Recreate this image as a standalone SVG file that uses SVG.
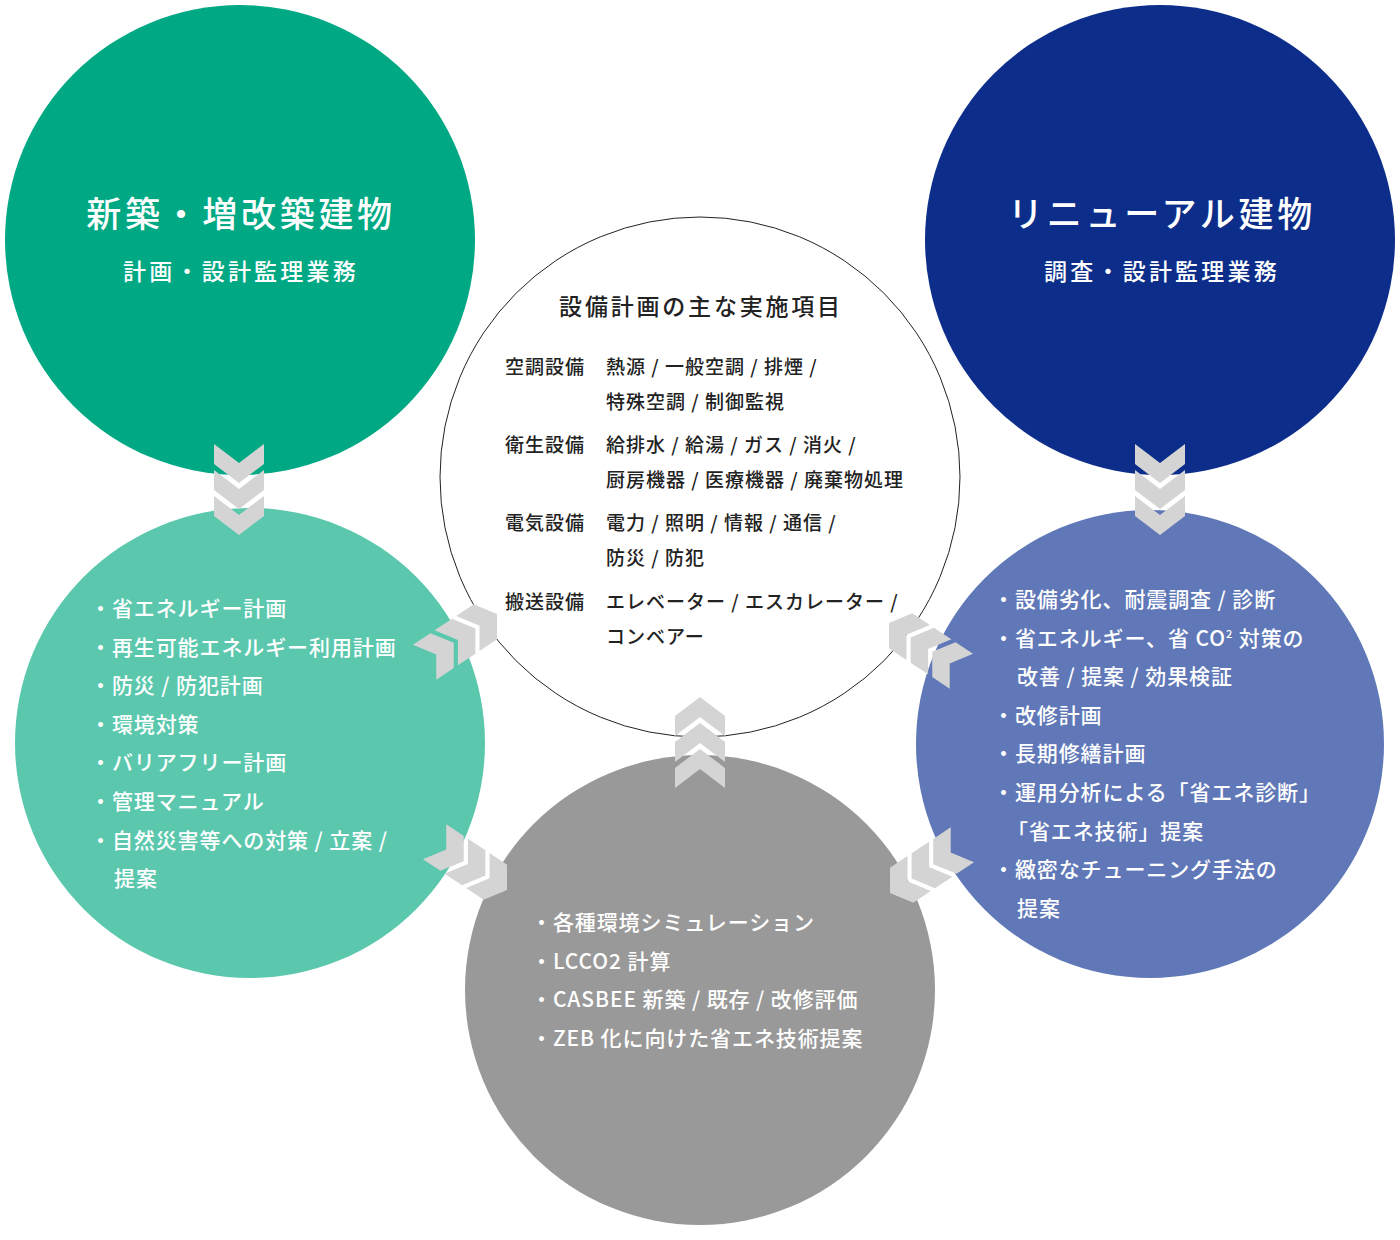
<svg xmlns="http://www.w3.org/2000/svg" xmlns:xlink="http://www.w3.org/1999/xlink" width="1400" height="1240" viewBox="0 0 1400 1240">
<style>
text{font-family:"Noto Sans CJK JP","Noto Sans",sans-serif;font-weight:500}
.w{fill:#ffffff}
.k{fill:#222222}
.t1{font-size:35px;letter-spacing:3.7px;text-anchor:middle}
.t2{font-size:23px;letter-spacing:3.2px;text-anchor:middle}
.li{font-size:21px;letter-spacing:0.9px}
.ct{font-size:23px;letter-spacing:2.8px;text-anchor:middle}
.cb{font-size:19px;letter-spacing:1px}
.chv{fill:#d4d4d4}
</style>
<defs>
<polygon id="cv" class="chv" points="-39,-25 -19,-25 0,0 -19,25 -39,25 -20,0"/>
<polygon id="cd" class="chv" points="-35,-21 -14,-21 0,0 -14,21 -35,21 -21,0"/>
<g id="cv3"><use xlink:href="#cv"/><use xlink:href="#cv" x="-26"/><use xlink:href="#cv" x="-52"/></g>
<g id="cd3"><use xlink:href="#cd"/><use xlink:href="#cd" x="-26"/><use xlink:href="#cd" x="-52"/></g>
</defs>
<rect width="1400" height="1240" fill="#ffffff"/>

<g id="node-new">
<circle cx="240" cy="240" r="235" fill="#00a984"/>
<text class="w t1" x="241" y="227">新築・増改築建物</text>
<text class="w t2" x="241" y="280">計画・設計監理業務</text>
</g>

<g id="node-renewal">
<circle cx="1160" cy="240" r="235" fill="#0c2e8a"/>
<text class="w t1" x="1162" y="227">リニューアル建物</text>
<text class="w t2" x="1162" y="280">調査・設計監理業務</text>
</g>

<g id="node-center">
<circle cx="700" cy="477" r="260" fill="#ffffff" stroke="#222222" stroke-width="1"/>
<text class="k ct" x="701" y="315">設備計画の主な実施項目</text>
<text class="k cb" x="505" y="374">空調設備</text>
<text class="k cb" x="606" y="374">熱源 / 一般空調 / 排煙 /</text>
<text class="k cb" x="606" y="409">特殊空調 / 制御監視</text>
<text class="k cb" x="505" y="452">衛生設備</text>
<text class="k cb" x="606" y="452">給排水 / 給湯 / ガス / 消火 /</text>
<text class="k cb" x="606" y="487">厨房機器 / 医療機器 / 廃棄物処理</text>
<text class="k cb" x="505" y="530">電気設備</text>
<text class="k cb" x="606" y="530">電力 / 照明 / 情報 / 通信 /</text>
<text class="k cb" x="606" y="565">防災 / 防犯</text>
<text class="k cb" x="505" y="609">搬送設備</text>
<text class="k cb" x="606" y="609">エレベーター / エスカレーター /</text>
<text class="k cb" x="606" y="644">コンベアー</text>
</g>

<g id="node-left">
<circle cx="250" cy="743" r="235" fill="#5bc8ae"/>
<text class="w li" x="90" y="616">・省エネルギー計画</text>
<text class="w li" x="90" y="654.6">・再生可能エネルギー利用計画</text>
<text class="w li" x="90" y="693.2">・防災 / 防犯計画</text>
<text class="w li" x="90" y="731.8">・環境対策</text>
<text class="w li" x="90" y="770.4">・バリアフリー計画</text>
<text class="w li" x="90" y="809">・管理マニュアル</text>
<text class="w li" x="90" y="847.6">・自然災害等への対策 / 立案 /</text>
<text class="w li" x="114" y="886.2">提案</text>
</g>

<g id="node-right">
<circle cx="1150" cy="744" r="234" fill="#6078b8"/>
<text class="w li" x="993" y="607">・設備劣化、耐震調査 / 診断</text>
<text class="w li" x="993" y="645.6">・省エネルギー、省 CO<tspan font-size="11" dy="-8">2</tspan><tspan dy="8"> 対策の</tspan></text>
<text class="w li" x="1017" y="684.2">改善 / 提案 / 効果検証</text>
<text class="w li" x="993" y="722.8">・改修計画</text>
<text class="w li" x="993" y="761.4">・長期修繕計画</text>
<text class="w li" x="993" y="800">・運用分析による「省エネ診断」</text>
<text class="w li" x="1007" y="838.6">「省エネ技術」提案</text>
<text class="w li" x="993" y="877.2">・緻密なチューニング手法の</text>
<text class="w li" x="1017" y="915.8">提案</text>
</g>

<g id="node-bottom">
<circle cx="700" cy="990" r="235" fill="#999999"/>
<text class="w li" x="531" y="930">・各種環境シミュレーション</text>
<text class="w li" x="531" y="968.6">・LCCO2 計算</text>
<text class="w li" x="531" y="1007.2">・CASBEE 新築 / 既存 / 改修評価</text>
<text class="w li" x="531" y="1045.8">・ZEB 化に向けた省エネ技術提案</text>
</g>

<g id="connectors">
<use xlink:href="#cv3" transform="translate(239,535) rotate(90)"/>
<use xlink:href="#cv3" transform="translate(1160,535) rotate(90)"/>
<use xlink:href="#cv3" transform="translate(700,697) rotate(-90)"/>
<use xlink:href="#cd3" transform="translate(497,614) rotate(-33.7)"/>
<use xlink:href="#cd3" transform="translate(507,890) rotate(33.7)"/>
<use xlink:href="#cd3" transform="translate(889,623) rotate(-146.3)"/>
<use xlink:href="#cd3" transform="translate(890,893) rotate(146.3)"/>
</g>
</svg>
